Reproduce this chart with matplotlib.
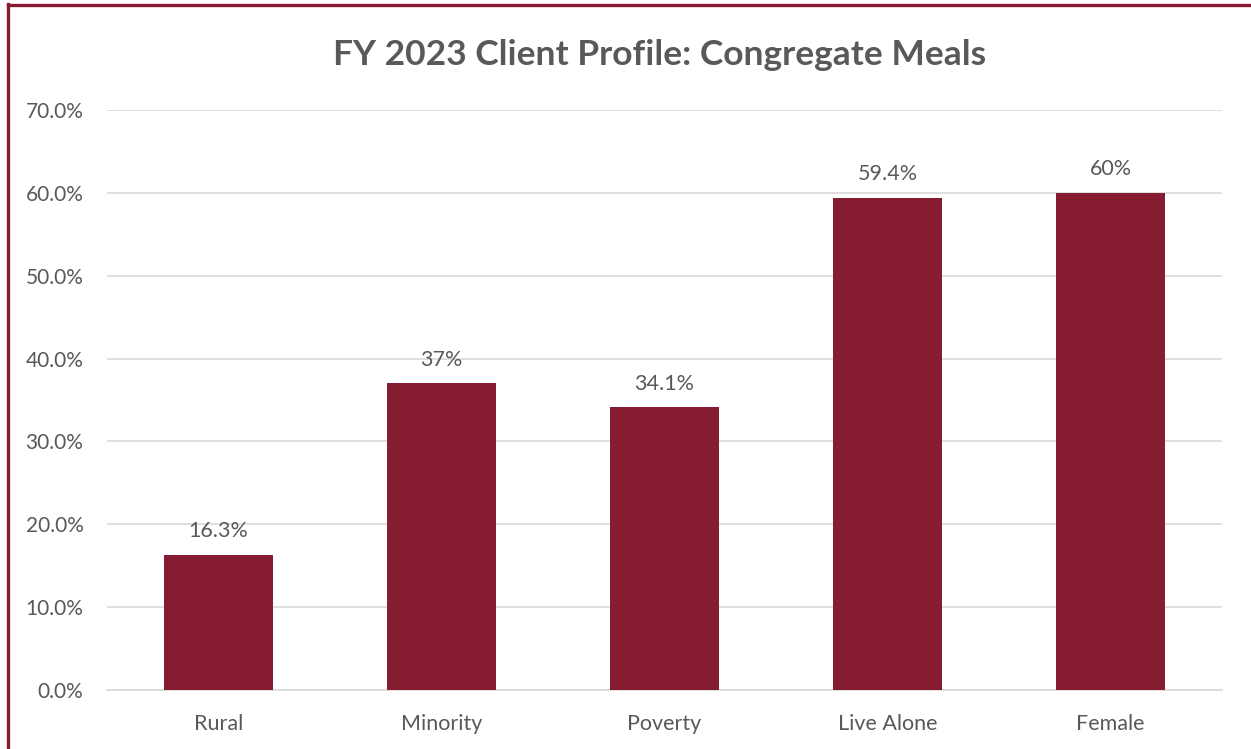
import matplotlib.pyplot as plt
from matplotlib.lines import Line2D

# data
categories = ['Rural', 'Minority', 'Poverty', 'Live Alone', 'Female']
values = [16.3, 37.0, 34.1, 59.4, 60.0]
value_labels = ['16.3%', '37%', '34.1%', '59.4%', '60%']
y_ticks = [0, 10, 20, 30, 40, 50, 60, 70]

bar_colour = '#861C31'
text_colour = '#595959'

plt.rcParams['font.family'] = ['Lato', 'DejaVu Sans']

W, H = 1251, 749
fig = plt.figure(figsize=(W / 100, H / 100), dpi=100)
ax = fig.add_axes([107 / W, 1 - 690 / H, (1222 - 107) / W, (690 - 110) / H])

x = list(range(len(categories)))
ax.bar(x, values, width=0.49, color=bar_colour, zorder=3)

for xi, v, lab in zip(x, values, value_labels):
    ax.annotate(lab, (xi, v), xytext=(0, 10), textcoords='offset points',
                ha='center', va='bottom', fontsize=15.5, color=text_colour)

ax.set_xlim(-0.5, len(categories) - 0.5)
ax.set_ylim(0, 70)
ax.set_yticks(y_ticks)
ax.set_yticklabels([f'{t:.1f}%' for t in y_ticks])
ax.set_xticks(x)
ax.set_xticklabels(categories)
ax.tick_params(axis='both', length=0, labelsize=15, labelcolor=text_colour)
ax.tick_params(axis='x', labelsize=15.5, pad=17)
ax.tick_params(axis='y', pad=17)
ax.grid(axis='y', color='#D9D9D9', linewidth=1.2, zorder=0)
for s in ['top', 'right', 'left']:
    ax.spines[s].set_visible(False)
ax.spines['bottom'].set_color('#D9D9D9')
ax.spines['bottom'].set_linewidth(1.2)

fig.text(660 / W, 1 - 55 / H, 'FY 2023 Client Profile: Congregate Meals',
         ha='center', va='center', fontsize=25.5, fontweight='bold', color=text_colour)

# border on top and left
fig.add_artist(Line2D([8 / W, 1], [1 - 4.5 / H, 1 - 4.5 / H], transform=fig.transFigure,
                      color=bar_colour, linewidth=2.4))
fig.add_artist(Line2D([8 / W, 8 / W], [0, 1 - 3.5 / H], transform=fig.transFigure,
                      color=bar_colour, linewidth=2.4))

fig.savefig('out.png', dpi=100)
